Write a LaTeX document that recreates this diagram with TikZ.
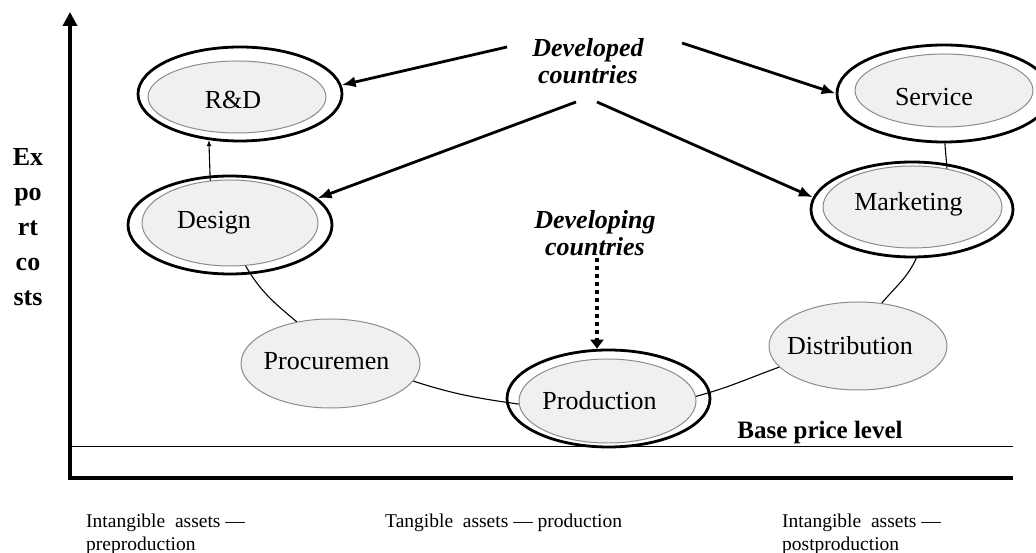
\documentclass[tikz,border=0pt]{standalone}
\usepackage{fontspec}
\setmainfont{Liberation Serif}
\usetikzlibrary{arrows.meta,shapes.geometric}
\begin{document}
\begin{tikzpicture}[x=1pt,y=1pt,
  outerell/.style={ellipse, draw=black, line width=2.8pt, inner sep=0pt},
  innerell/.style={ellipse, draw=black!45, fill=black!6, line width=1pt, inner sep=0pt},
  nodetxt/.style={font=\fontsize{26}{30}\selectfont, inner sep=0pt},
  thickarrow/.style={line width=2.8pt, -{Latex[length=14pt,width=11pt]}},
  thinarrow/.style={line width=1.1pt, -{Latex[length=6pt,width=5pt]}},
  link/.style={line width=1.1pt},
  axisline/.style={line width=3.5pt, line join=miter, -{Triangle[length=14pt,width=14pt]}},
  countrytxt/.style={font=\fontsize{26}{27}\selectfont\bfseries\itshape, align=center, inner sep=0pt},
  bottomtxt/.style={font=\fontsize{19.5}{22.5}\selectfont, align=left, inner sep=0pt},
  dottedarrow/.style={line width=3.5pt, dash pattern=on 4pt off 4pt, -{Triangle[length=9pt,width=13pt]}}
]
\useasboundingbox (0,0) rectangle (1036,553);

% axes
\coordinate (orig) at (70,75);
\coordinate (xend) at (1013,75);
\coordinate (ytop) at (70,541);
\draw[axisline] (xend) -- (orig) -- (ytop);
\coordinate (bl0) at (70,106);
\coordinate (bl1) at (1013,106);
\draw[line width=1pt] (bl0) -- (bl1);

% y-axis label
\node[font=\fontsize{26}{35}\selectfont\bfseries, align=center, inner sep=0pt] (ylab) at (28,325.5) {Ex\\po\\rt\\co\\sts};

% R&D
\node[outerell, minimum width=204pt, minimum height=94pt] (rdo) at (240,459) {};
\node[innerell, minimum width=178pt, minimum height=72pt, label={[nodetxt, xshift=-4pt, yshift=-3pt]center:R\&D}] (rd) at (237,456) {};

% Design
\node[outerell, minimum width=204pt, minimum height=98pt] (deso) at (230,328) {};
\node[innerell, minimum width=176pt, minimum height=86pt, label={[nodetxt, xshift=-16pt]center:Design}] (des) at (230,330) {};

% Service
\node[outerell, minimum width=214pt, minimum height=97pt] (srvo) at (944,459.5) {};
\node[innerell, minimum width=178pt, minimum height=73pt, label={[nodetxt, xshift=-10pt, yshift=-7pt]center:Service}] (srv) at (944,462.5) {};

% Marketing
\node[outerell, minimum width=202pt, minimum height=95pt] (mkto) at (912,343.5) {};
\node[innerell, minimum width=179pt, minimum height=82pt, label={[nodetxt, xshift=-4pt, yshift=3pt]center:Marketing}] (mkt) at (912.5,346) {};

% Distribution
\node[innerell, minimum width=178pt, minimum height=88pt, label={[nodetxt, xshift=-8pt]center:Distribution}] (dist) at (858,207) {};

% Procurement
\node[innerell, minimum width=179pt, minimum height=89pt, label={[nodetxt, xshift=-4pt, yshift=2pt]center:Procuremen}] (proc) at (330.5,189.5) {};

% Production
\node[outerell, minimum width=203pt, minimum height=97pt] (prodo) at (608.5,154.5) {};
\node[innerell, minimum width=177pt, minimum height=84pt, label={[nodetxt, xshift=-8pt]center:Production}] (prod) at (607.5,152) {};

% country labels
\node[countrytxt] (dvd) at (588,491.5) {Developed\\countries};
\node[countrytxt] (dvg) at (595,319.5) {Developing\\countries};

% base price level
\node[font=\fontsize{25}{28}\selectfont\bfseries, inner sep=0pt] (bpl) at (820,121) {Base price level};

% bottom labels
\node[bottomtxt, anchor=north west] (lpre) at (86,39) {Intangible\ \ assets —\\preproduction};
\node[bottomtxt, anchor=base west] (lmid) at (385,25.5) {Tangible\ \ assets — production};
\node[bottomtxt, anchor=north west] (lpost) at (782,39) {Intangible\ \ assets —\\postproduction};

% arrows from developed countries
\coordinate (s1) at (507,506);
\coordinate (s2) at (682,510);
\coordinate (s3) at (576,451);
\coordinate (s4) at (597,451);
\draw[thickarrow] (s1) -- (rdo.5);
\draw[thickarrow] (s2) -- (srvo.180);
\draw[thickarrow] (s3) -- (deso.17);
\draw[thickarrow] (s4) -- (mkto.173);

% dotted arrow from developing countries
\coordinate (ds) at (597,295);
\draw[dottedarrow] (ds) -- (ds |- prodo.north);

% chain links
\draw[thinarrow] (des.115) -- (rdo.236);
\draw[link] (des.-70) to[out=-60,in=140] (proc.129);
\draw[link] (proc.-12) to[out=-18,in=172] (prod.182);
\draw[link] (prod.3) to[out=15,in=-160] (dist.195);
\draw[link] (dist.61) to[out=50,in=-115] (mkto.-85);
\draw[link] (srvo.-89) -- (mkt.48);
\end{tikzpicture}
\end{document}
